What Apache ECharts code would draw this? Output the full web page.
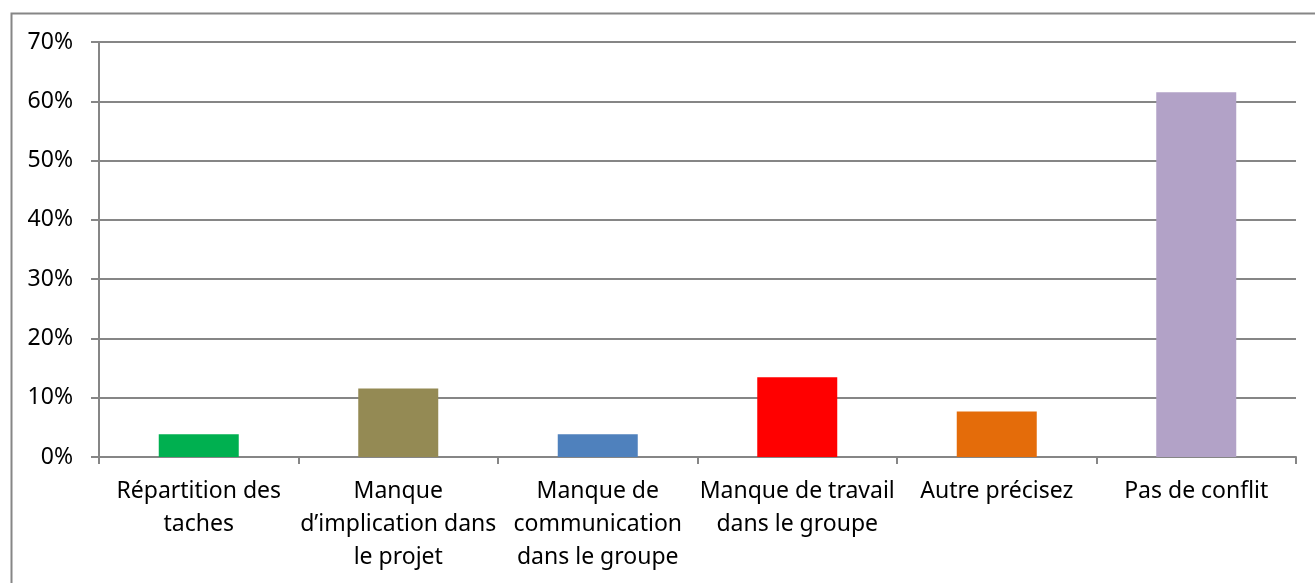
<!DOCTYPE html>
<html>
<head>
<meta charset="utf-8">
<script src="https://cdn.jsdelivr.net/npm/echarts@6/dist/echarts.min.js"></script>
<style>
  html, body { margin: 0; padding: 0; background: #fff; }
  #chart { width: 1315px; height: 583px; }
</style>
</head>
<body>
<div id="chart"></div>
<script>
// catégories (retours à la ligne comme dans l'original)
const categories = [
  'Répartition des\ntaches',
  'Manque\nd\u2019implication dans\nle projet',
  'Manque de\ncommunication\ndans le groupe',
  'Manque de travail\ndans le groupe',
  'Autre précisez',
  'Pas de conflit'
];
// valeurs en %
const values = [3.85, 11.54, 3.85, 13.46, 7.69, 61.54];
const barColors = ['#00B050', '#948A54', '#4F81BD', '#FF0000', '#E46C0A', '#B2A2C7'];
const yTicks = [0, 10, 20, 30, 40, 50, 60, 70];

var chart = echarts.init(document.getElementById('chart'));
var font = '"Noto Sans", "Open Sans", sans-serif';

var option = {
  animation: false,
  backgroundColor: '#fff',
  graphic: [{
    type: 'rect',
    shape: { x: 11.5, y: 13.5, width: 1400, height: 700 },
    style: { fill: 'none', stroke: '#868686', lineWidth: 2 },
    silent: true
  }],
  grid: { left: 99, right: 19, top: 42, bottom: 126 },
  xAxis: {
    type: 'category',
    data: categories,
    axisLine: { lineStyle: { color: '#868686', width: 2 } },
    axisTick: { show: true, length: 7, lineStyle: { color: '#868686', width: 2 } },
    axisLabel: {
      color: '#000',
      fontFamily: font,
      fontSize: 23,
      lineHeight: 33,
      margin: 18,
      interval: 0,
      align: 'center'
    }
  },
  yAxis: {
    type: 'value',
    min: yTicks[0],
    max: yTicks[yTicks.length - 1],
    interval: 10,
    axisLine: { show: true, lineStyle: { color: '#868686', width: 2 } },
    axisTick: { show: true, length: 8, lineStyle: { color: '#868686', width: 2 } },
    axisLabel: {
      color: '#000',
      fontFamily: font,
      fontSize: 23,
      margin: 26,
      formatter: '{value}%'
    },
    splitLine: { show: true, lineStyle: { color: '#868686', width: 2 } }
  },
  series: [{
    type: 'bar',
    barWidth: 80,
    data: values.map(function (v, i) {
      return { value: v, itemStyle: { color: barColors[i] } };
    })
  }]
};

chart.setOption(option);
</script>
</body>
</html>
